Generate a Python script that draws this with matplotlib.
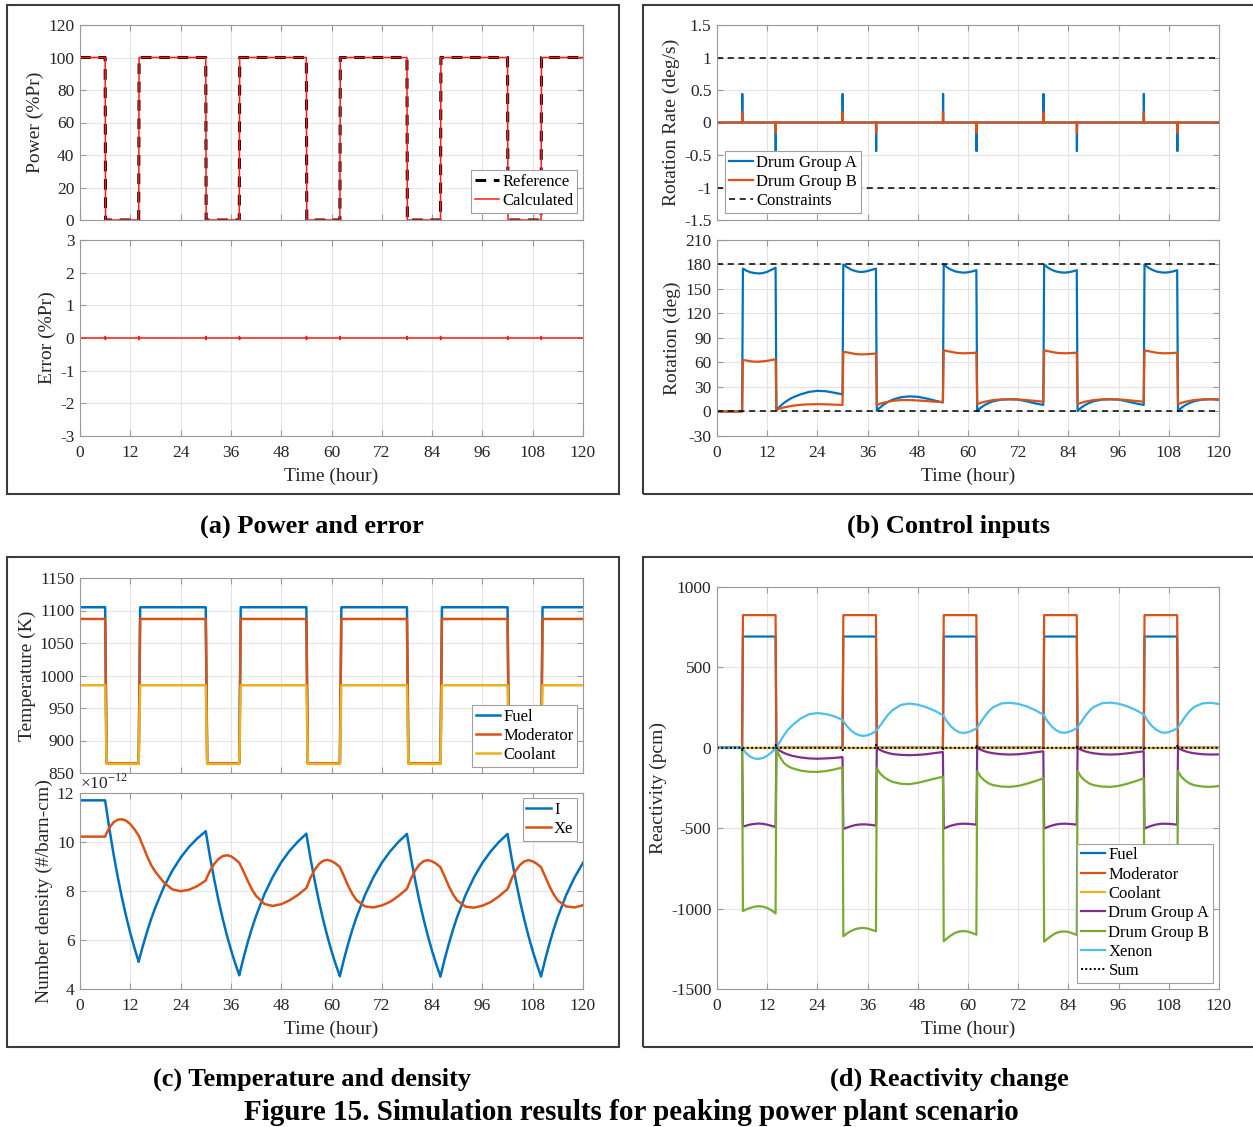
import matplotlib.pyplot as plt
from matplotlib.patches import Rectangle
from matplotlib.ticker import FuncFormatter

plt.rcParams['font.family'] = ['Liberation Serif', 'DejaVu Serif']
plt.rcParams['mathtext.fontset'] = 'custom'
plt.rcParams['mathtext.rm'] = 'Liberation Serif'
plt.rcParams['axes.unicode_minus'] = False

# MATLAB default line colours
BLUE, ORANGE, YELLOW = '#0072BD', '#D95319', '#EDB120'
PURPLE, GREEN, CYAN = '#7E2F8E', '#77AC30', '#4DBEEE'
TEXT = '#262626'
AXIS = '#9a9a9a'

# peaking schedule: power cut to 0 %Pr at these hours, back to 100 %Pr at these
power_down_h = [6, 30, 54, 78, 102]
power_up_h = [14, 38, 62, 86, 110]
power_levels = [100, 0]
hour_ticks = [0, 12, 24, 36, 48, 60, 72, 84, 96, 108, 120]

# tracking error blips at each power step (%Pr)
error_down = [0.05, 0.05, 0.05, 0.05, 0.05]
error_up = [0.05, 0.05, 0.05, 0.05, 0.05]

# drum rotation-rate spikes (deg/s) at each power step
rate_a_down = [0.44, 0.44, 0.44, 0.44, 0.44]
rate_a_up = [-0.44, -0.44, -0.44, -0.44, -0.44]
rate_b_down = [0.16, 0.16, 0.16, 0.16, 0.16]
rate_b_up = [-0.16, -0.16, -0.16, -0.16, -0.16]
rate_limit = [1, -1]
rotation_limit = [180, 0]

# temperatures (K) at full power / zero power
fuel_temp = [1105, 865]
moderator_temp = [1087, 865]
coolant_temp = [985, 864]

# reactivity (pcm) at full power / zero power
rho_fuel_levels = [0, 692]
rho_moderator_levels = [0, 825]
rho_coolant_levels = [0, 0]
sum_down = [-15, -15, -15, -15, -15]
sum_up = [18, 18, 18, 18, 18]

# sample hours within each 24 h cycle, counted from the power cut
cycle_offsets = [0, 0.2, 1, 2, 3, 4, 5, 6, 7, 8, 8.2, 9, 10, 11, 12, 14, 16, 18, 20, 22]
t_s = [0.0] + [d + o for d in power_down_h for o in cycle_offsets if d + o <= 120]

# drum rotation (deg)
rot_a = [0,
         0, 175, 172.5, 170.5, 169.5, 169, 169.5, 171, 173.5, 176, 1, 6, 10.5, 14, 17, 21, 24, 25.3, 24.8, 23,
         21, 180, 177, 174, 172, 171, 171, 172, 173.5, 175, 1, 5, 9, 12, 14.5, 17.5, 18.5, 18, 16, 13.5,
         11, 180, 176.5, 173.5, 171.5, 170.5, 170, 170.5, 171.5, 173, 0.5, 4.5, 8, 10.5, 12.5, 14.5, 15, 14.5, 12.5, 10,
         8, 180, 176.5, 173.5, 171.5, 170.5, 170, 170.5, 171.5, 173, 0.5, 4.5, 8, 10.5, 12.5, 14.5, 15, 14.5, 12.5, 10,
         8, 180, 176.5, 173.5, 171.5, 170.5, 170, 170.5, 171.5, 173, 0.5, 4.5, 8, 10.5, 12.5, 14.5, 15, 14.5]
rot_b = [0,
         0, 63, 62.5, 61.5, 61, 61, 61.5, 62, 63, 64, 2, 3.5, 5, 6, 7, 8.2, 8.8, 9, 8.8, 8.4,
         8, 73, 72.5, 71.5, 70.5, 70, 70, 70.2, 70.6, 71, 8, 9.5, 11, 12, 13, 14, 14, 13.5, 12.8, 12,
         11.5, 75, 74, 73, 72, 71.5, 71.3, 71.4, 71.7, 72, 9, 10.5, 12, 13, 14, 14.8, 15, 14.8, 14, 13,
         12, 75, 74, 73, 72, 71.5, 71.3, 71.4, 71.7, 72, 9, 10.5, 12, 13, 14, 14.8, 15, 14.8, 14, 13,
         12, 75, 74, 73, 72, 71.5, 71.3, 71.4, 71.7, 72, 9, 10.5, 12, 13, 14, 14.8, 15, 14.5]

# number densities (1e-12 #/barn-cm)
iodine = [11.7,
          11.7, 11.46, 10.55, 9.51, 8.58, 7.73, 6.97, 6.28, 5.67, 5.11, 5.25, 5.76, 6.34, 6.87, 7.34, 8.16, 8.82, 9.36, 9.80, 10.15,
          10.44, 10.23, 9.41, 8.49, 7.65, 6.90, 6.22, 5.61, 5.06, 4.56, 4.71, 5.26, 5.90, 6.47, 6.98, 7.87, 8.58, 9.17, 9.64, 10.02,
          10.34, 10.13, 9.32, 8.41, 7.58, 6.83, 6.16, 5.55, 5.01, 4.52, 4.67, 5.23, 5.86, 6.44, 6.95, 7.84, 8.56, 9.15, 9.62, 10.01,
          10.33, 10.12, 9.31, 8.40, 7.57, 6.83, 6.16, 5.55, 5.01, 4.51, 4.66, 5.22, 5.85, 6.43, 6.95, 7.84, 8.56, 9.15, 9.62, 10.01,
          10.33, 10.12, 9.31, 8.40, 7.57, 6.83, 6.16, 5.55, 5.01, 4.51, 4.66, 5.22, 5.85, 6.43, 6.95, 7.84, 8.56, 9.15]
xenon = [10.22,
         10.22, 10.31, 10.58, 10.80, 10.91, 10.93, 10.87, 10.73, 10.52, 10.26, 10.18, 9.85, 9.42, 9.05, 8.78, 8.35, 8.07, 7.99, 8.05, 8.20,
         8.43, 8.52, 8.82, 9.10, 9.30, 9.42, 9.46, 9.42, 9.30, 9.15, 9.08, 8.80, 8.42, 8.07, 7.80, 7.47, 7.39, 7.46, 7.62, 7.84,
         8.12, 8.20, 8.55, 8.87, 9.10, 9.23, 9.27, 9.22, 9.12, 8.98, 8.90, 8.60, 8.20, 7.87, 7.62, 7.37, 7.33, 7.41, 7.56, 7.80,
         8.09, 8.17, 8.52, 8.85, 9.08, 9.22, 9.26, 9.21, 9.11, 8.97, 8.89, 8.59, 8.19, 7.86, 7.61, 7.36, 7.32, 7.40, 7.55, 7.79,
         8.08, 8.16, 8.51, 8.84, 9.07, 9.21, 9.26, 9.21, 9.11, 8.97, 8.89, 8.59, 8.19, 7.86, 7.61, 7.37, 7.33, 7.42]

# reactivity contributions (pcm)
rho_drum_a = [0,
              0, -490, -484, -477, -473, -471, -473, -478, -485, -492, -3, -18, -32, -42, -50, -60, -66, -68, -66, -63,
              -58, -505, -497, -488, -481, -477, -476, -477, -480, -484, -3, -14, -25, -33, -39, -44, -46, -44, -40, -33,
              -26, -503, -493, -484, -477, -473, -472, -473, -475, -478, -2, -12, -22, -29, -34, -40, -42, -40, -35, -28,
              -22, -503, -493, -484, -477, -473, -472, -473, -475, -478, -2, -12, -22, -29, -34, -40, -42, -40, -35, -28,
              -22, -503, -493, -484, -477, -473, -472, -473, -475, -478, -2, -12, -22, -29, -34, -40, -42, -41]
rho_drum_b = [0,
              0, -1015, -1005, -995, -988, -985, -988, -996, -1010, -1030, -10, -55, -95, -115, -127, -142, -149, -150, -145, -135,
              -122, -1172, -1155, -1140, -1128, -1122, -1120, -1124, -1132, -1141, -128, -160, -185, -200, -212, -224, -226, -218, -205, -192,
              -180, -1203, -1185, -1165, -1150, -1142, -1140, -1143, -1152, -1162, -145, -180, -205, -222, -232, -241, -243, -237, -224, -208,
              -190, -1206, -1188, -1168, -1152, -1144, -1142, -1145, -1154, -1164, -145, -180, -205, -222, -232, -241, -243, -237, -224, -208,
              -190, -1206, -1188, -1168, -1152, -1144, -1142, -1145, -1154, -1164, -145, -180, -205, -222, -232, -241, -243, -238]
rho_xenon = [0,
             0, -9, -35, -56, -67, -69, -63, -50, -29, -4, 4, 36, 78, 114, 140, 182, 209, 216, 210, 196,
             174, 165, 136, 109, 89, 78, 74, 78, 89, 104, 111, 138, 175, 209, 235, 267, 275, 268, 253, 231,
             204, 196, 162, 131, 109, 96, 92, 97, 107, 120, 128, 157, 196, 228, 252, 276, 280, 273, 258, 235,
             207, 199, 165, 133, 111, 97, 93, 98, 108, 121, 129, 158, 197, 229, 253, 277, 281, 274, 259, 236,
             208, 200, 166, 134, 112, 98, 93, 98, 108, 121, 129, 158, 197, 229, 253, 276, 280, 272]


def schedule(levels, ramp=0.2):
    # square wave following the power schedule: levels[0] at full power, levels[1] at zero power
    high, low = levels
    t, v = [0.0], [high]
    for d, u in zip(power_down_h, power_up_h):
        t += [d, d + ramp, u, u + ramp]
        v += [high, low, low, high]
    t.append(120.0)
    v.append(high)
    return t, v


def spikes(down, up, width=0.08, bipolar=False):
    # flat zero line with a short blip at every power step
    events = sorted(zip(power_down_h + power_up_h, down + up))
    t, v = [0.0], [0.0]
    for te, h in events:
        if bipolar:
            t += [te, te + width / 3, te + 2 * width / 3, te + width]
            v += [0.0, h, -h, 0.0]
        else:
            t += [te, te + width / 2, te + width]
            v += [0.0, h, 0.0]
    t.append(120.0)
    v.append(0.0)
    return t, v


W, H = 1253, 1127
fig = plt.figure(figsize=(W / 100, H / 100), dpi=100)


def axes_px(x0, y0, x1, y1):
    return fig.add_axes([x0 / W, 1 - y1 / H, (x1 - x0) / W, (y1 - y0) / H])


def style(ax, ylim, ystep, ylabel, xlabels=True):
    ax.set_xlim(0, 120)
    ax.set_xticks(hour_ticks)
    ax.set_ylim(*ylim)
    n = int(round((ylim[1] - ylim[0]) / ystep))
    ax.set_yticks([ylim[0] + i * ystep for i in range(n + 1)])
    ax.yaxis.set_major_formatter(FuncFormatter(lambda v, _: f'{v:g}'))
    ax.grid(True, color='#e4e4e4', lw=0.8)
    ax.set_axisbelow(True)
    for s in ax.spines.values():
        s.set_color(AXIS)
        s.set_linewidth(0.8)
    ax.tick_params(direction='in', top=True, right=True, length=4, width=0.8,
                   color=AXIS, labelcolor=TEXT, labelsize=12.5, pad=4,
                   labelbottom=xlabels)
    ax.tick_params(axis='x', pad=6.5)
    ax.set_ylabel(ylabel, fontsize=14, color=TEXT, labelpad=3)
    if xlabels:
        ax.set_xlabel('Time (hour)', fontsize=14, color=TEXT, labelpad=5)


def legend(ax, loc, anchor):
    leg = ax.legend(loc=loc, bbox_to_anchor=anchor, borderaxespad=0, fontsize=12,
                    fancybox=False, framealpha=1, edgecolor='#a0a0a0',
                    handlelength=1.45, handletextpad=0.2, borderpad=0.22,
                    labelspacing=0.2)
    leg.get_frame().set_linewidth(0.8)


# (a) power and tracking error
ax = axes_px(80, 25, 583, 220)
t, v = schedule(power_levels, ramp=0.1)
ax.plot(t, v, color='k', lw=2.2, ls=(0, (3.5, 2.5)), label='Reference')
ax.plot(t, v, color='#ff1a1a', lw=1.1, label='Calculated')
style(ax, (0, 120), 20, 'Power (%Pr)', xlabels=False)
legend(ax, 'lower right', (0.988, 0.036))

ax = axes_px(80, 240, 583, 436)
t, v = spikes(error_down, error_up, width=0.1, bipolar=True)
ax.plot(t, v, color='#ff1a1a', lw=1.1)
style(ax, (-3, 3), 1, 'Error (%Pr)')

# (b) drum rotation rate and rotation
ax = axes_px(717, 25, 1219, 220)
t, v = spikes(rate_a_down, rate_a_up)
ax.plot(t, v, color=BLUE, lw=1.6, label='Drum Group A')
t, v = spikes(rate_b_down, rate_b_up)
ax.plot(t, v, color=ORANGE, lw=1.6, label='Drum Group B')
ax.axhline(rate_limit[0], color='k', lw=1.1, ls=(0, (4, 3)), label='Constraints')
ax.axhline(rate_limit[1], color='k', lw=1.1, ls=(0, (4, 3)))
style(ax, (-1.5, 1.5), 0.5, 'Rotation Rate (deg/s)', xlabels=False)
legend(ax, 'lower left', (0.016, 0.036))

ax = axes_px(717, 240, 1219, 436)
ax.plot(t_s, rot_a, color=BLUE, lw=1.6)
ax.plot(t_s, rot_b, color=ORANGE, lw=1.6)
for lim in rotation_limit:
    ax.axhline(lim, color='k', lw=1.1, ls=(0, (4, 3)))
style(ax, (-30, 210), 30, 'Rotation (deg)')

# (c) temperatures and I/Xe number densities
ax = axes_px(80, 578, 583, 773)
for levels, color, name in [(fuel_temp, BLUE, 'Fuel'),
                            (moderator_temp, ORANGE, 'Moderator'),
                            (coolant_temp, YELLOW, 'Coolant')]:
    t, v = schedule(levels, ramp=0.35)
    ax.plot(t, v, color=color, lw=1.8, label=name)
style(ax, (850, 1150), 50, 'Temperature (K)', xlabels=False)
legend(ax, 'lower right', (0.988, 0.031))

ax = axes_px(80, 793, 583, 989)
ax.plot(t_s, iodine, color=BLUE, lw=1.8, label='I')
ax.plot(t_s, xenon, color=ORANGE, lw=1.8, label='Xe')
style(ax, (4, 12), 2, 'Number density (#/barn-cm)')
ax.text(0.0, 1.0, r'$\times$10$^{\mathregular{-12}}$', transform=ax.transAxes,
        ha='left', va='bottom', fontsize=12.5, color=TEXT)
legend(ax, 'upper right', (0.988, 0.974))

# (d) reactivity breakdown
ax = axes_px(717, 587, 1219, 989)
t, v = schedule(rho_fuel_levels, ramp=0.2)
ax.plot(t, v, color=BLUE, lw=1.6, label='Fuel')
t, v = schedule(rho_moderator_levels, ramp=0.2)
ax.plot(t, v, color=ORANGE, lw=1.6, label='Moderator')
t, v = schedule(rho_coolant_levels, ramp=0.2)
ax.plot(t, v, color=YELLOW, lw=1.6, label='Coolant')
ax.plot(t_s, rho_drum_a, color=PURPLE, lw=1.6, label='Drum Group A')
ax.plot(t_s, rho_drum_b, color=GREEN, lw=1.6, label='Drum Group B')
ax.plot(t_s, rho_xenon, color=CYAN, lw=1.6, label='Xenon')
t, v = spikes(sum_down, sum_up, width=0.1)
ax.plot(t, v, color='k', lw=1.4, ls=(0, (1, 1.2)), label='Sum')
style(ax, (-1500, 1000), 500, 'Reactivity (pcm)')
legend(ax, 'lower right', (0.988, 0.015))

# panel frames
for x0, y0, x1, y1 in [(7, 5, 619, 494), (643, 5, 1265, 494),
                       (7, 557, 619, 1047), (643, 557, 1265, 1047)]:
    fig.add_artist(Rectangle((x0 / W, 1 - y1 / H), (x1 - x0) / W, (y1 - y0) / H,
                             transform=fig.transFigure, fill=False,
                             ec='#3c3c3c', lw=1.5))

# captions
cap = dict(ha='center', va='center', fontweight='bold', color='k')
fig.text(312 / W, 1 - 526 / H, '(a) Power and error', fontsize=19, **cap)
fig.text(949 / W, 1 - 526 / H, '(b) Control inputs', fontsize=19, **cap)
fig.text(312 / W, 1 - 1079 / H, '(c) Temperature and density', fontsize=19, **cap)
fig.text(949 / W, 1 - 1079 / H, '(d) Reactivity change', fontsize=19, **cap)
fig.text(631 / W, 1 - 1112 / H, 'Figure 15. Simulation results for peaking power plant scenario',
         fontsize=21, **cap)

fig.savefig('out.png', dpi=100)
